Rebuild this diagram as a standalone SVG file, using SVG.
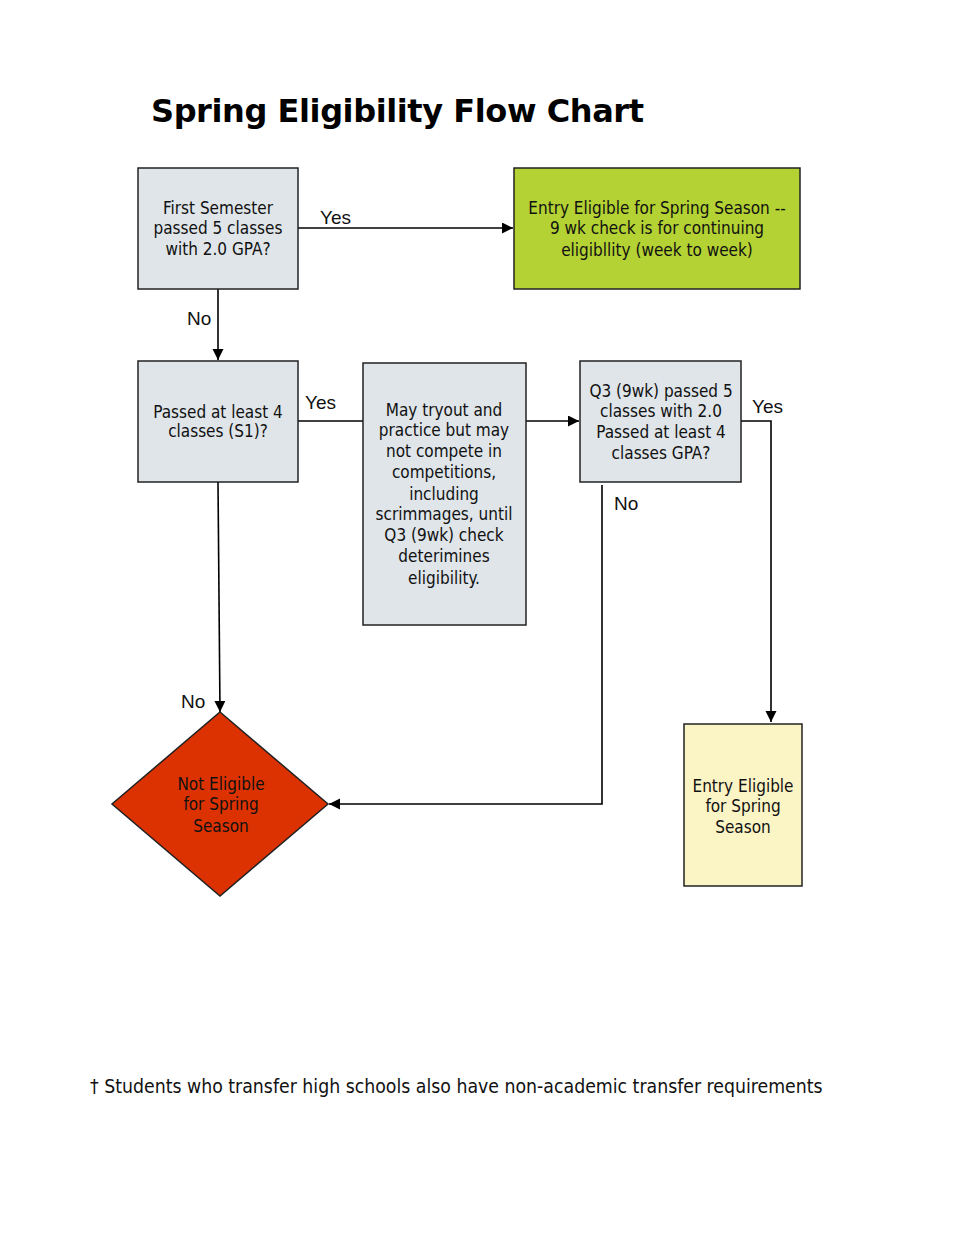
<svg xmlns="http://www.w3.org/2000/svg" width="960" height="1242" viewBox="0 0 960 1242">
<defs>
<marker id="ah" markerWidth="12" markerHeight="12" refX="11" refY="5.5" orient="auto" markerUnits="userSpaceOnUse">
<path d="M0,0 L11,5.5 L0,11 z" fill="#000"/>
</marker>
<style>
.box{stroke:#222;stroke-width:1.5}
.g{fill:#dfe5e9}
.t{font-family:"DejaVu Sans Condensed","DejaVu Sans",sans-serif;font-size:17px;fill:#111;text-anchor:middle}
.l{font-family:"Liberation Sans",Arial,sans-serif;font-size:19px;fill:#111}
.c{fill:none;stroke:#000;stroke-width:1.6}
</style>
</defs>
<rect width="960" height="1242" fill="#fff"/>
<text x="151" y="122" font-family="DejaVu Sans" font-weight="bold" font-size="32" fill="#000" textLength="493">Spring Eligibility Flow Chart</text>

<g id="connectors">
<line class="c" x1="298" y1="228" x2="513" y2="228" marker-end="url(#ah)"/>
<line class="c" x1="218" y1="289" x2="218" y2="360" marker-end="url(#ah)"/>
<line class="c" x1="298" y1="421" x2="363" y2="421"/>
<line class="c" x1="526" y1="421" x2="579" y2="421" marker-end="url(#ah)"/>
<polyline class="c" points="741,421 771,421 771,722" marker-end="url(#ah)"/>
<polyline class="c" points="602,485 602,804 329,804" marker-end="url(#ah)"/>
<line class="c" x1="218" y1="482" x2="220" y2="712" marker-end="url(#ah)"/>
<text class="l" x="320" y="224">Yes</text>
<text class="l" x="187" y="325">No</text>
<text class="l" x="305" y="409">Yes</text>
<text class="l" x="752" y="413">Yes</text>
<text class="l" x="614" y="510">No</text>
<text class="l" x="181" y="708">No</text>
</g>

<g id="n1">
<rect class="box g" x="138" y="168" width="160" height="121"/>
<text class="t" x="218" y="214">First Semester</text>
<text class="t" x="218" y="234">passed 5 classes</text>
<text class="t" x="218" y="255">with 2.0 GPA?</text>
</g>
<g id="n2">
<rect class="box" fill="#b4d233" x="514" y="168" width="286" height="121"/>
<text class="t" x="657" y="214">Entry Eligible for Spring Season --</text>
<text class="t" x="657" y="234">9 wk check is for continuing</text>
<text class="t" x="657" y="256">eligibllity (week to week)</text>
</g>
<g id="n3">
<rect class="box g" x="138" y="361" width="160" height="121"/>
<text class="t" x="218" y="418">Passed at least 4</text>
<text class="t" x="218" y="437">classes (S1)?</text>
</g>
<g id="n4">
<rect class="box g" x="363" y="363" width="163" height="262"/>
<text class="t" x="444" y="416">May tryout and</text>
<text class="t" x="444" y="436">practice but may</text>
<text class="t" x="444" y="457">not compete in</text>
<text class="t" x="444" y="478">competitions,</text>
<text class="t" x="444" y="500">including</text>
<text class="t" x="444" y="520">scrimmages, until</text>
<text class="t" x="444" y="541">Q3 (9wk) check</text>
<text class="t" x="444" y="562">deterimines</text>
<text class="t" x="444" y="584">eligibility.</text>
</g>
<g id="n5">
<rect class="box g" x="580" y="361" width="161" height="121"/>
<text class="t" x="661" y="397">Q3 (9wk) passed 5</text>
<text class="t" x="661" y="417">classes with 2.0</text>
<text class="t" x="661" y="438">Passed at least 4</text>
<text class="t" x="661" y="459">classes GPA?</text>
</g>
<g id="n6">
<polygon class="box" fill="#dc3100" points="220,712 328,804 220,896 112,804"/>
<text class="t" x="221" y="790">Not Eligible</text>
<text class="t" x="221" y="810">for Spring</text>
<text class="t" x="221" y="832">Season</text>
</g>
<g id="n7">
<rect class="box" fill="#fbf4c5" x="684" y="724" width="118" height="162"/>
<text class="t" x="743" y="792">Entry Eligible</text>
<text class="t" x="743" y="812">for Spring</text>
<text class="t" x="743" y="833">Season</text>
</g>
<text x="90" y="1093" font-family="DejaVu Sans Condensed, DejaVu Sans, sans-serif" font-size="19.3" fill="#111">† Students who transfer high schools also have non-academic transfer requirements</text>
</svg>
